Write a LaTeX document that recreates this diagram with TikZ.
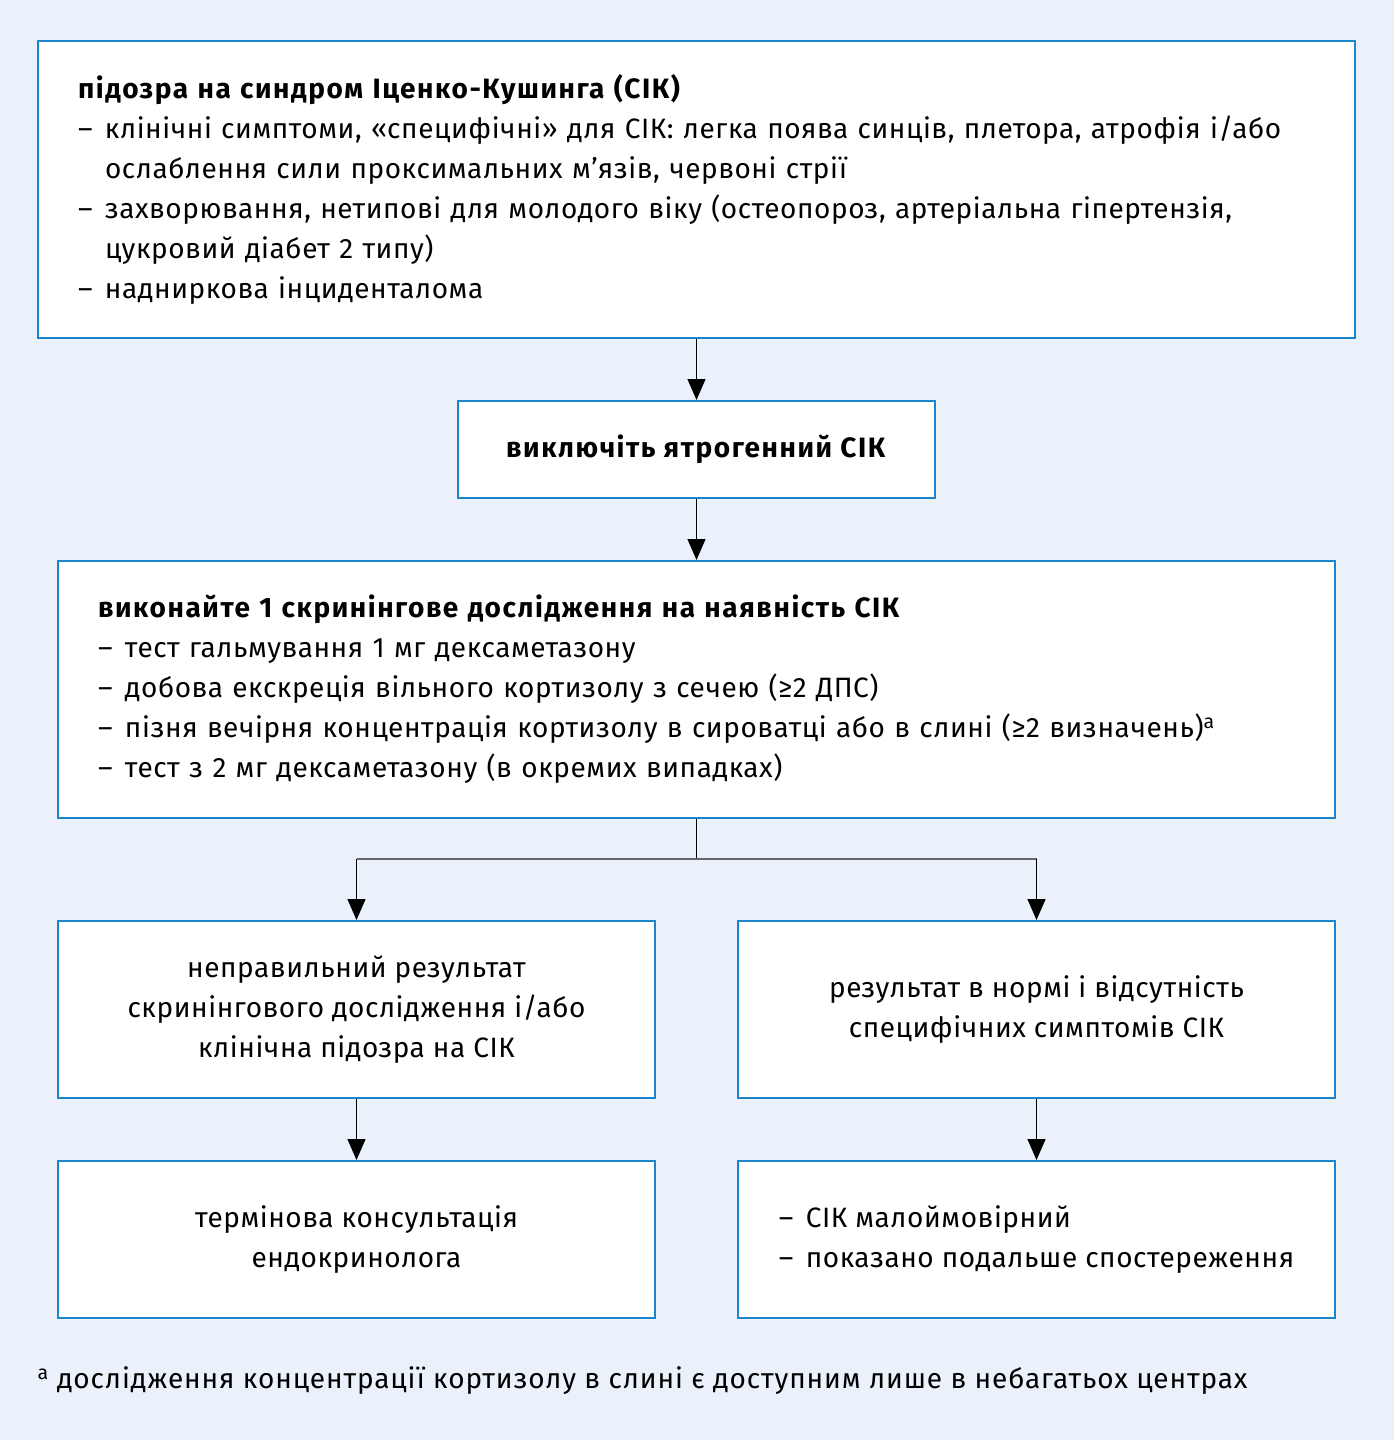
\documentclass[tikz,border=0pt]{standalone}
\usepackage{fontspec}
\setmainfont{Fira Sans}[LetterSpace=2, BoldFeatures={LetterSpace=5.5}]
\usetikzlibrary{positioning, arrows.meta}
\definecolor{boxblue}{HTML}{1B86CC}
\definecolor{panelbg}{HTML}{EAF1FA}
\definecolor{forkgrey}{HTML}{666666}
\newcommand{\dashitem}{\makebox[27pt][l]{–}}
\newcommand{\hangon}{\hspace*{27pt}}

\begin{document}
\begin{tikzpicture}[x=1pt, y=-1pt,
	                    font=\fontsize{28}{40}\selectfont,
	                    block/.style={draw=boxblue,
	                                  line width=2pt,
	                                  fill=white,
	                                  inner xsep=40pt,
	                                  inner ysep=0pt},
	                    flow/.style={-{Triangle[length=21pt,width=18pt]},
	                                 draw,
	                                 line width=1.3pt}]
	\fill[panelbg] (0,0) rectangle (1394,1440);
	\useasboundingbox (0,0) rectangle (1394,1440);
	\node [block, minimum width=1317pt, minimum height=297pt, text width=1237pt, align=left] (Suspicion) at (696.5,189.5)
	  {\textbf{підозра на синдром Іценко-Кушинга (СІК)}\\
	   \dashitem клінічні симптоми, «специфічні» для СІК: легка поява синців, плетора, атрофія і/або\\
	   \hangon ослаблення сили проксимальних м’язів, червоні стрії\\
	   \dashitem захворювання, нетипові для молодого віку (остеопороз, артеріальна гіпертензія,\\
	   \hangon цукровий діабет 2 типу)\\
	   \dashitem надниркова інциденталома};
	\node [block, minimum width=477pt, minimum height=97pt, align=center] (Exclude) at (696.5,449.5)
	  {\textbf{виключіть ятрогенний СІК}};
	\node [block, minimum width=1277pt, minimum height=257pt, text width=1197pt, align=left] (Screening) at (696.5,689.5)
	  {\textbf{виконайте 1 скринінгове дослідження на наявність СІК}\\
	   \dashitem тест гальмування 1 мг дексаметазону\\
	   \dashitem добова екскреція вільного кортизолу з сечею (≥2 ДПС)\\
	   \dashitem пізня вечірня концентрація кортизолу в сироватці або в слині (≥2 визначень)\textsuperscript{a}\\
	   \dashitem тест з 2 мг дексаметазону (в окремих випадках)};
	\node [block, minimum width=597pt, minimum height=177pt, align=center] (Abnormal) at (356.5,1009.5)
	  {неправильний результат\\ скринінгового дослідження і/або\\ клінічна підозра на СІК};
	\node [block, minimum width=597pt, minimum height=177pt, align=center] (Normal) at (1036.5,1009.5)
	  {результат в нормі і відсутність\\ специфічних симптомів СІК};
	\node [block, minimum width=597pt, minimum height=157pt, align=center] (Referral) at (356.5,1239.5)
	  {термінова консультація\\ ендокринолога};
	\node [block, minimum width=597pt, minimum height=157pt, align=left] (Unlikely) at (1036.5,1239.5)
	  {\dashitem СІК малоймовірний\\
	   \dashitem показано подальше спостереження};
	\node [anchor=west] (Footnote) at (34,1381)
	  {\addfontfeatures{LetterSpace=3.2}\textsuperscript{a} дослідження концентрації кортизолу в слині є доступним лише в небагатьох центрах};
	% connectors
	\coordinate (Fork) at (696.5,859);
	\draw[flow] (Suspicion) -- (Exclude);
	\draw[flow] (Exclude) -- (Screening);
	\draw[line width=1.3pt] (Screening) -- (Fork);
	\draw[forkgrey, line width=2pt] (Abnormal |- Fork) -- (Normal |- Fork);
	\draw[flow] (Abnormal |- Fork) -- (Abnormal);
	\draw[flow] (Normal |- Fork) -- (Normal);
	\draw[flow] (Abnormal) -- (Referral);
	\draw[flow] (Normal) -- (Unlikely);
\end{tikzpicture}
\end{document}
